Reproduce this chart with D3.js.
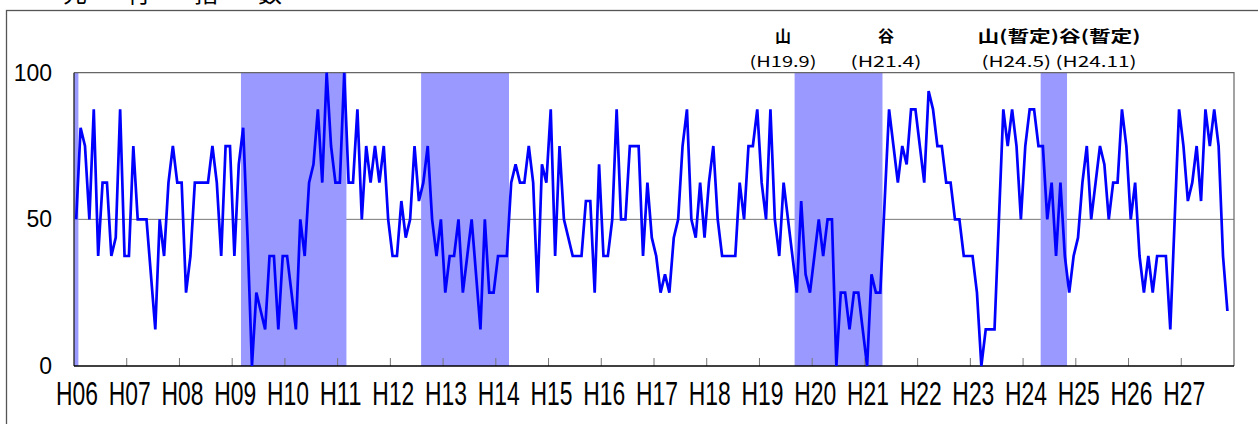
<!DOCTYPE html>
<head>
  <meta charset="utf-8" />
  <script src="https://d3js.org/d3.v7.min.js"></script>
  <style>
    body {
      margin: 0;
      background: #fff;
    }
  </style>
</head>

<div id="chart"></div>

<body>

<script>

// year labels on the x axis (each year = 12 monthly categories)
var years = ["H06","H07","H08","H09","H10","H11","H12","H13","H14","H15","H16",
             "H17","H18","H19","H20","H21","H22","H23","H24","H25","H26","H27"];

// monthly diffusion index, H06.1 .. H27.11
var values = [
  50, 81.25, 75, 50, 87.5, 37.5, 62.5, 62.5, 37.5, 43.75,
  87.5, 37.5, 37.5, 75, 50, 50, 50, 31.25, 12.5, 50,
  37.5, 62.5, 75, 62.5, 62.5, 25, 37.5, 62.5, 62.5, 62.5,
  62.5, 75, 62.5, 37.5, 75, 75, 37.5, 68.75, 81.25, 43.75,
  0, 25, 18.75, 12.5, 37.5, 37.5, 12.5, 37.5, 37.5, 25,
  12.5, 50, 37.5, 62.5, 68.75, 87.5, 62.5, 100, 75, 62.5,
  62.5, 100, 62.5, 62.5, 87.5, 50, 75, 62.5, 75, 62.5,
  75, 50, 37.5, 37.5, 56.25, 43.75, 50, 75, 56.25, 62.5,
  75, 50, 37.5, 50, 25, 37.5, 37.5, 50, 25, 37.5,
  50, 31.25, 12.5, 50, 25, 25, 37.5, 37.5, 37.5, 62.5,
  68.75, 62.5, 62.5, 75, 62.5, 25, 68.75, 62.5, 87.5, 37.5,
  75, 50, 43.75, 37.5, 37.5, 37.5, 56.25, 56.25, 25, 68.75,
  37.5, 37.5, 50, 87.5, 50, 50, 75, 75, 75, 37.5,
  62.5, 43.75, 37.5, 25, 31.25, 25, 43.75, 50, 75, 87.5,
  50, 43.75, 62.5, 43.75, 62.5, 75, 50, 37.5, 37.5, 37.5,
  37.5, 62.5, 50, 75, 75, 87.5, 62.5, 50, 87.5, 50,
  37.5, 62.5, 50, 37.5, 25, 56.25, 31.25, 25, 37.5, 50,
  37.5, 50, 50, 0, 25, 25, 12.5, 25, 25, 12.5,
  0, 31.25, 25, 25, 56.25, 87.5, 75, 62.5, 75, 68.75,
  87.5, 87.5, 75, 62.5, 93.75, 87.5, 75, 75, 62.5, 62.5,
  50, 50, 37.5, 37.5, 37.5, 25, 0, 12.5, 12.5, 12.5,
  50, 87.5, 75, 87.5, 75, 50, 75, 87.5, 87.5, 75,
  75, 50, 62.5, 37.5, 62.5, 37.5, 25, 37.5, 43.75, 62.5,
  75, 50, 62.5, 75, 68.75, 50, 62.5, 62.5, 87.5, 75,
  50, 62.5, 37.5, 25, 37.5, 25, 37.5, 37.5, 37.5, 12.5,
  50, 87.5, 75, 56.25, 62.5, 75, 56.25, 87.5, 75, 87.5,
  75, 37.5, 18.75
];

// shaded (contraction) periods, first and last month
var shadeStart = ["H06.1", "H09.3", "H12.8", "H19.9", "H24.5"];
var shadeEnd   = ["H06.1", "H11.2", "H14.3", "H21.4", "H24.10"];

var yTicks = [0, 50, 100];

// title characters (the chart is cropped through them)
var titleChars = ["先", "行", "指", "数"];
var titleX     = [75, 139, 206, 270];

// turning point notes
var noteTop    = ["山", "谷", "山(暫定)谷(暫定)"];
var noteTopW   = [0, 0, 163];
var noteBottom = ["(H19.9)", "(H21.4)", "(H24.5) (H24.11)"];
var noteBotW   = [67, 71, 155];
var noteX      = [783, 886, 1059];

var W = 1258, H = 424;
var plotL = 74, plotR = 1234, plotT = 72.7, plotB = 366;

var svg = d3.select("#chart")
  .append("svg")
  .attr("width", W)
  .attr("height", H);

// month categories
var months = [];
years.forEach(function(yr) {
  for (var m = 1; m <= 12; m++) months.push(yr + "." + m);
});

var x = d3.scaleBand()
  .domain(months)
  .range([plotL, plotR]);

var y = d3.scaleLinear()
  .domain([0, 100])
  .range([plotB, plotT]);

// outer frame
svg.append("rect")
  .attr("x", 6.5).attr("y", 10.5)
  .attr("width", W + 20).attr("height", H + 20)
  .attr("fill", "none")
  .attr("stroke", "#555")
  .attr("stroke-width", 1.3);

// title (cut off at the top)
svg.append("g").selectAll("text")
  .data(titleChars)
  .enter().append("text")
    .attr("x", function(d, i) { return titleX[i]; })
    .attr("y", 2)
    .attr("text-anchor", "middle")
    .style("font-family", "Noto Sans CJK JP")
    .style("font-size", "24px")
    .attr("fill", "#000")
    .text(function(d) { return d; });

// 50 line
svg.append("line")
  .attr("x1", plotL).attr("x2", plotR)
  .attr("y1", y(50)).attr("y2", y(50))
  .attr("stroke", "#777").attr("stroke-width", 1);

// shading
svg.append("g").selectAll("rect")
  .data(shadeStart)
  .enter().append("rect")
    .attr("x", function(d) { return x(d); })
    .attr("y", plotT)
    .attr("width", function(d, i) { return x(shadeEnd[i]) + x.bandwidth() - x(d); })
    .attr("height", plotB - plotT)
    .attr("fill", "#9999ff");

// plot border
svg.append("path")
  .attr("d", "M" + plotL + "," + plotT + "H" + plotR + "V" + plotB)
  .attr("fill", "none")
  .attr("stroke", "#666")
  .attr("stroke-width", 1.2);

svg.append("line")
  .attr("x1", plotL).attr("x2", plotL)
  .attr("y1", plotT).attr("y2", plotB)
  .attr("stroke", "#222").attr("stroke-width", 1.3);

// x axis ticks at year starts
svg.append("g").selectAll("line")
  .data(years.slice(1))
  .enter().append("line")
    .attr("x1", function(d) { return x(d + ".1"); })
    .attr("x2", function(d) { return x(d + ".1"); })
    .attr("y1", plotB).attr("y2", plotB - 8)
    .attr("stroke", "#777").attr("stroke-width", 1);

svg.append("line")
  .attr("x1", plotL).attr("x2", plotR)
  .attr("y1", plotB).attr("y2", plotB)
  .attr("stroke", "#000").attr("stroke-width", 1.5);

// x labels
svg.append("g").selectAll("text")
  .data(years)
  .enter().append("text")
    .attr("x", function(d) { return x(d + ".1") + 3; })
    .attr("y", 405)
    .attr("text-anchor", "middle")
    .attr("textLength", 42)
    .attr("lengthAdjust", "spacingAndGlyphs")
    .style("font-family", "Liberation Sans")
    .style("font-size", "33px")
    .attr("fill", "#000")
    .text(function(d) { return d; });

// y labels
svg.append("g").selectAll("text")
  .data(yTicks)
  .enter().append("text")
    .attr("x", 52)
    .attr("y", function(d) { return y(d) + 8; })
    .attr("text-anchor", "end")
    .style("font-family", "Liberation Sans")
    .style("font-size", "23px")
    .attr("fill", "#000")
    .text(function(d) { return d; });

// the index line
var line = d3.line()
  .x(function(d, i) { return x(months[i]) + x.bandwidth() / 2; })
  .y(function(d) { return y(d); });

svg.append("path")
  .datum(values)
  .attr("d", line)
  .attr("fill", "none")
  .attr("stroke", "#0000ff")
  .attr("stroke-width", 2.7)
  .attr("stroke-linejoin", "miter");

// notes for peaks and troughs
svg.append("g").selectAll("text")
  .data(noteTop)
  .enter().append("text")
    .attr("x", function(d, i) { return noteX[i]; })
    .attr("y", 42)
    .attr("text-anchor", "middle")
    .attr("textLength", function(d, i) { return noteTopW[i] || null; })
    .attr("lengthAdjust", "spacingAndGlyphs")
    .style("font-family", "Noto Sans CJK JP")
    .style("font-size", "16px")
    .style("font-weight", "bold")
    .text(function(d) { return d; });

svg.append("g").selectAll("text")
  .data(noteBottom)
  .enter().append("text")
    .attr("x", function(d, i) { return noteX[i]; })
    .attr("y", 67)
    .attr("text-anchor", "middle")
    .attr("textLength", function(d, i) { return noteBotW[i]; })
    .attr("lengthAdjust", "spacingAndGlyphs")
    .style("font-family", "Noto Sans CJK JP")
    .style("font-size", "15px")
    .text(function(d) { return d; });

</script>
</body>

</html>
